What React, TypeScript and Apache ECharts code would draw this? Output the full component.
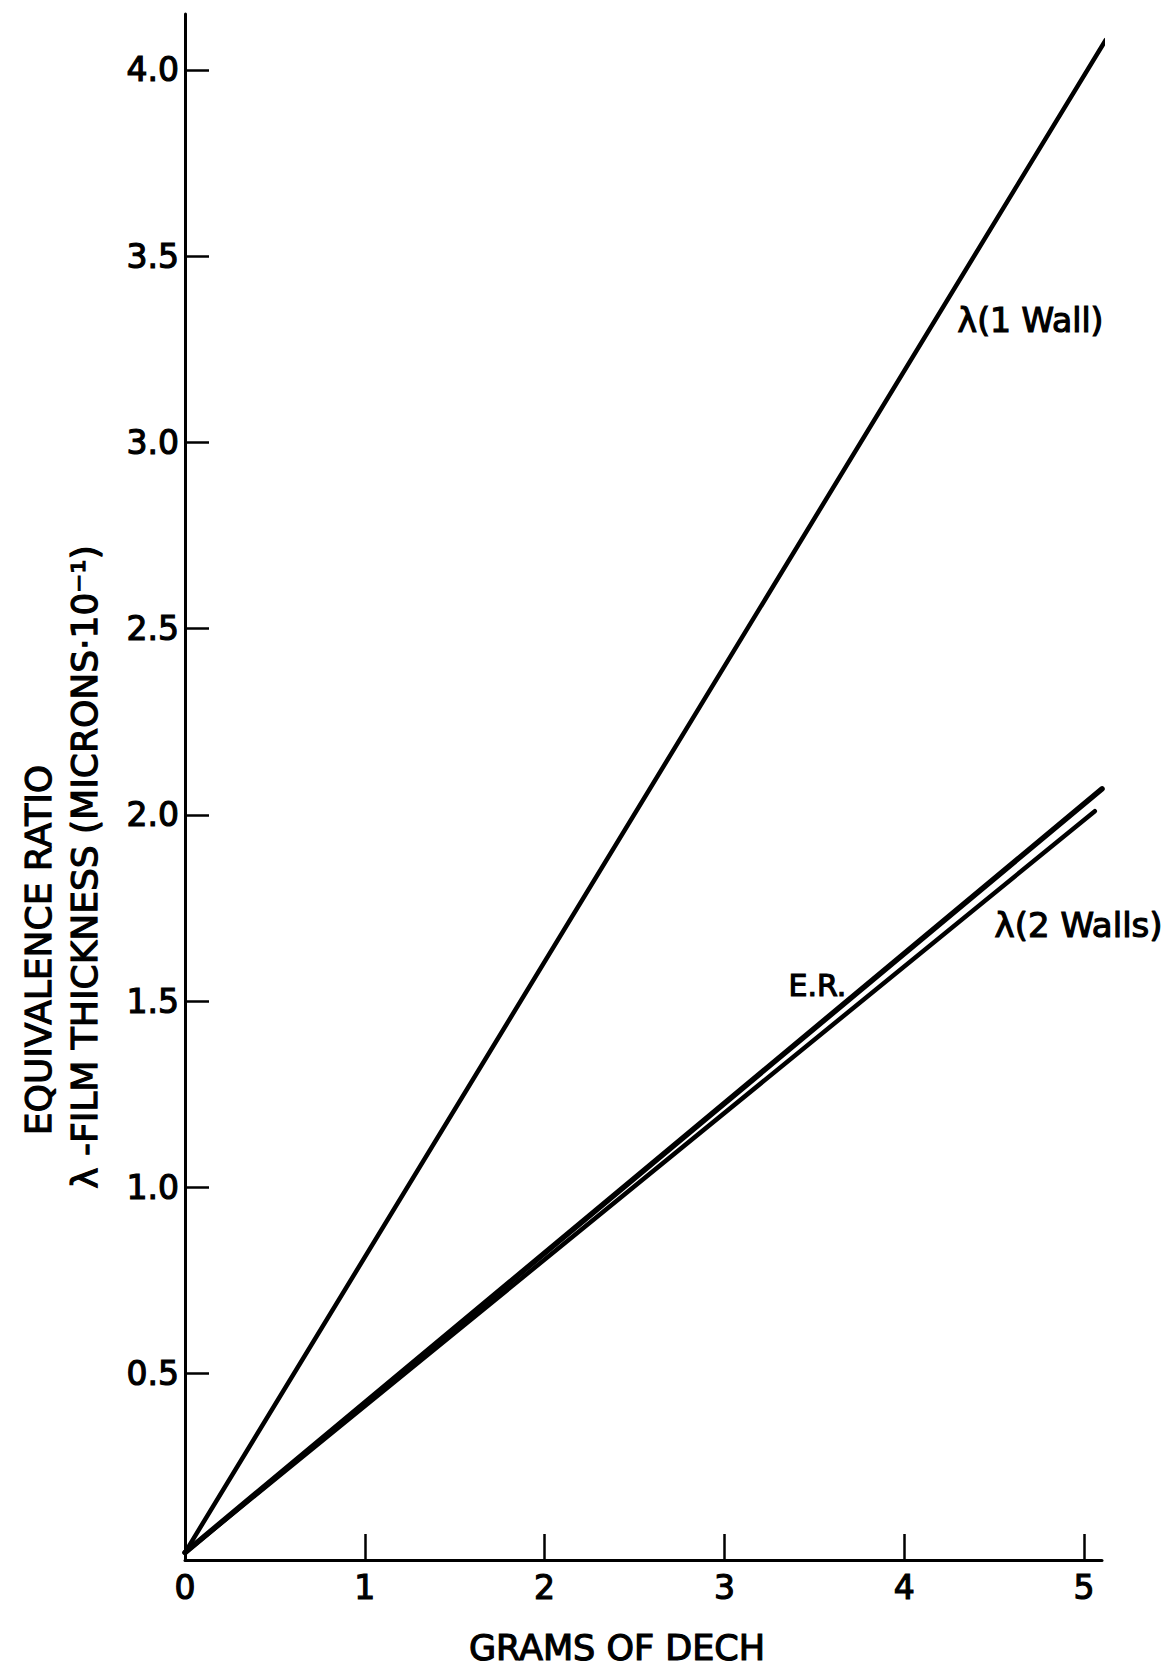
import React, { useEffect, useRef } from "react";
import * as echarts from "echarts";

const xTickLabels = [0, 1, 2, 3, 4, 5];
const yTickLabels = [0.5, 1.0, 1.5, 2.0, 2.5, 3.0, 3.5, 4.0];
const oneWall: [number, number][] = [[0, 0.02], [5.12, 4.08]];
const equivRatio: [number, number][] = [[0, 0.02], [5.1, 2.07]];
const twoWalls: [number, number][] = [[0, 0.02], [5.06, 2.01]];
const xName = "GRAMS OF DECH";
const yName1 = "EQUIVALENCE RATIO";
const yName2 = "λ -FILM THICKNESS (MICRONS·10⁻¹)";

const FONT = "DejaVu Sans";
const BORDER = 1.2;

export default function App() {
  const ref = useRef<HTMLDivElement>(null);
  useEffect(() => {
    const chart = echarts.init(ref.current!, null, { renderer: "svg" });
    const lineSeries = (name: string, data: [number, number][], w: number) => ({
      name,
      type: "line",
      data,
      symbol: "none",
      lineStyle: { color: "#000", width: w, cap: "round" },
      z: 3,
    });
    const txt = (text: string, size: number, extra: any) => ({
      type: "text",
      ...extra,
      style: {
        text,
        font: `${size}px ${FONT}`,
        fill: "#000",
        stroke: "#000",
        lineWidth: BORDER,
        ...(extra.style || {}),
      },
    });
    chart.setOption({
      animation: false,
      backgroundColor: "#fff",
      grid: { left: 185, top: 14, width: 917, height: 1546 },
      xAxis: {
        type: "value",
        min: 0,
        max: 5.1,
        interval: 1,
        axisLine: { lineStyle: { color: "#000", width: 3 } },
        axisTick: { inside: true, length: 26, lineStyle: { color: "#000", width: 2.5 }, customValues: [1, 2, 3, 4, 5] },
        axisLabel: {
          customValues: xTickLabels,
          color: "#000",
          fontSize: 33,
          fontFamily: FONT,
          textBorderColor: "#000",
          textBorderWidth: BORDER,
          margin: 11,
        },
        splitLine: { show: false },
      },
      yAxis: {
        type: "value",
        min: 0,
        max: 4.15,
        interval: 0.5,
        axisLine: { show: true, lineStyle: { color: "#000", width: 3 } },
        axisTick: { show: true, inside: true, length: 24, lineStyle: { color: "#000", width: 2.5 }, customValues: yTickLabels },
        axisLabel: {
          customValues: yTickLabels,
          color: "#000",
          fontSize: 33,
          fontFamily: FONT,
          textBorderColor: "#000",
          textBorderWidth: BORDER,
          margin: 6,
          formatter: (v: number) => v.toFixed(1),
        },
        splitLine: { show: false },
      },
      series: [
        lineSeries("λ(1 Wall)", oneWall, 4.5),
        lineSeries("E.R.", equivRatio, 5.5),
        lineSeries("λ(2 Walls)", twoWalls, 4.5),
      ],
      graphic: [
        txt("λ(1 Wall)", 33, { left: 957, top: 303 }),
        txt("λ(2 Walls)", 34, { left: 994, top: 907 }),
        txt("E.R.", 30, { left: 788, top: 970 }),
        txt(xName, 35, { x: 617, y: 1648, style: { align: "center", verticalAlign: "middle" } }),
        txt(yName1, 36, { x: 38, y: 950, rotation: Math.PI / 2, style: { align: "center", verticalAlign: "middle" } }),
        txt(yName2, 36, { x: 84, y: 867, rotation: Math.PI / 2, style: { align: "center", verticalAlign: "middle" } }),
      ],
    });
    return () => chart.dispose();
  }, []);
  return (
    <div
      ref={ref}
      style={{ position: "fixed", left: 0, top: 0, width: 1174, height: 1667, background: "#fff" }}
    />
  );
}
